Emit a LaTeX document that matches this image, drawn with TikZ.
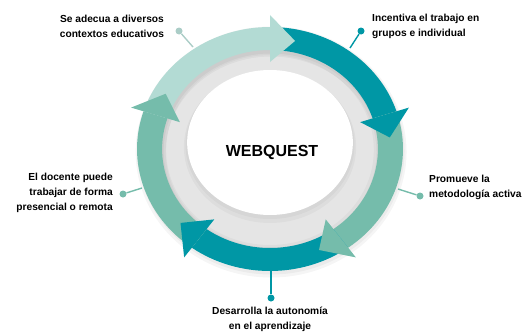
\documentclass[tikz,border=0pt]{standalone}
\usepackage{fontspec}
\setmainfont{Liberation Sans}
\usetikzlibrary{positioning}

\definecolor{wqlight}{HTML}{B3DBD4}
\definecolor{wqteal}{HTML}{0097A5}
\definecolor{wqgreen}{HTML}{75BCAB}
\definecolor{wqgray}{HTML}{E5E5E5}

% body of one arrow of the cycle, #2 = angle of the tip
\newcommand{\wqbody}[2]{%
  \fill[#1] ({#2+84}:122) arc[start angle=#2+84, end angle=#2+12, radius=122]
    -- ({#2+12}:99) arc[start angle=#2+12, end angle=#2+84, radius=99] -- cycle;}
% head of one arrow of the cycle
\newcommand{\wqhead}[2]{%
  \fill[#1] ({#2+12}:87) -- ({#2+12}:134) -- (#2:110.5) -- cycle;}

\begin{document}
\begin{tikzpicture}[x=1pt,y=1pt,
  lbl/.style={font=\bfseries\fontsize{10.2}{15}\selectfont, inner sep=0pt},
  dot/.style={circle, fill=#1, inner sep=0pt, minimum size=7pt},
  link/.style={draw=#1, line width=1.4pt}]
\useasboundingbox (0,0) rectangle (530,333);

\begin{scope}[shift={(270,184)}, xscale=1.09]
% gray ring and shadows
\fill[wqgray] (0,0) circle[radius=100];
\draw[black, opacity=.04, line width=30] (1,-3) circle[radius=110.5];
\draw[black, opacity=.04, line width=26] (1,-2) circle[radius=110.5];
\draw[black, opacity=.03, line width=6] (0,-1) circle[radius=98];
\fill[black, opacity=.03] (0,2) ellipse[x radius=79, y radius=76];
\fill[black, opacity=.03] (0,4) ellipse[x radius=77.5, y radius=74];
\fill[white] (0,6.5) ellipse[x radius=76, y radius=72.5];

% arrows of the cycle
\wqbody{wqlight}{78}
\wqbody{wqteal}{6}
\wqbody{wqgreen}{-66}
\wqbody{wqteal}{-138}
\wqbody{wqgreen}{150}
\wqhead{wqlight}{78}
\wqhead{wqteal}{6}
\wqhead{wqgreen}{-66}
\wqhead{wqteal}{-138}
\wqhead{wqgreen}{150}
\end{scope}

\node[font=\bfseries\fontsize{16}{18}\selectfont] (web) at (272,181) {WEBQUEST};

% labels
\node[lbl, align=center] (adecua) at (112,307) {Se adecua a diversos\\contextos educativos};
\node[lbl, align=left, anchor=west] (grupos) at (372,307) {Incentiva el trabajo en\\grupos e individual};
\node[lbl, align=left, anchor=west] (activa) at (429,146) {Promueve la\\metodología activa};
\node[lbl, align=right, anchor=east] (docente) at (113,140) {El docente puede\\trabajar de forma\\presencial o remota};
\node[lbl, align=center] (autonomia) at (270,14) {Desarrolla la autonomía\\en el aprendizaje};

% dots and connectors
\node[dot=wqlight!85!gray] (d1) at (179,302) {};
\node[dot=wqteal] (d2) at (361,302) {};
\node[dot=wqgreen] (d3) at (420,137) {};
\node[dot=wqgreen] (d4) at (123,139) {};
\node[dot=wqteal] (d5) at (271,35) {};
\coordinate (r1) at (193,286);
\coordinate (r2) at (350,285);
\coordinate (r3) at (398,144);
\coordinate (r4) at (142,145);
\coordinate (r5) at (271,62);
\draw[link=wqlight!85!gray] (d1) -- (r1);
\draw[link=wqteal] (d2) -- (r2);
\draw[link=wqgreen] (d3) -- (r3);
\draw[link=wqgreen] (d4) -- (r4);
\draw[link=wqteal] (d5) -- (r5);
\end{tikzpicture}
\end{document}
